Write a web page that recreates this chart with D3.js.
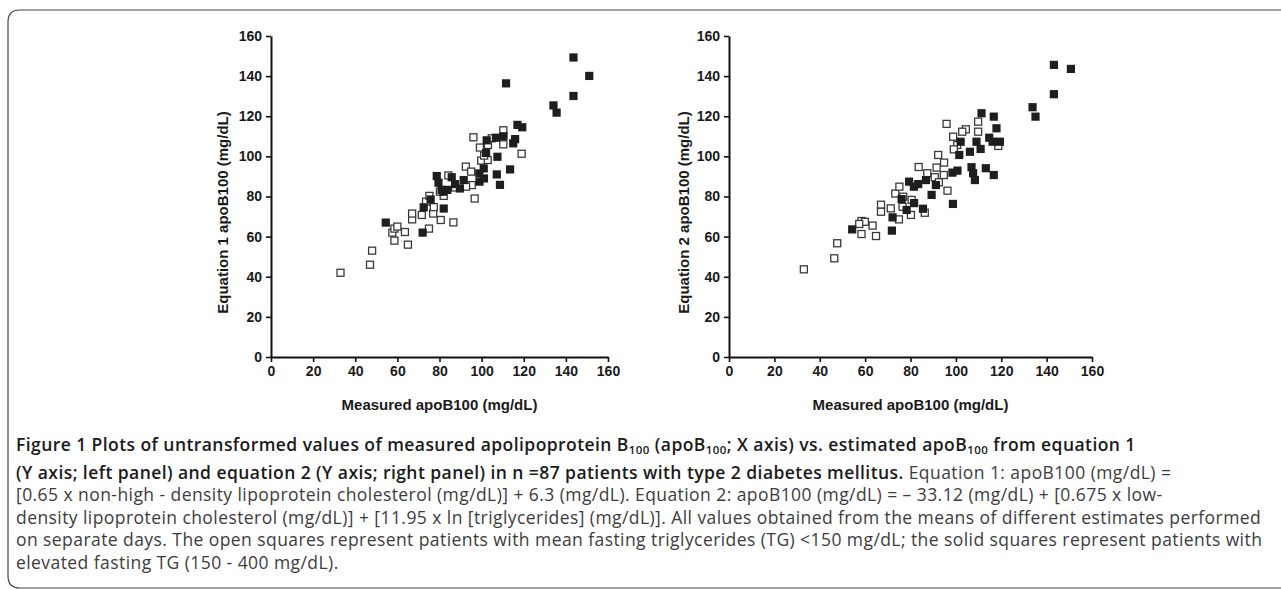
<!DOCTYPE html>
<html><head><meta charset="utf-8">
<script src="https://cdn.jsdelivr.net/npm/d3@7"></script>
<style>body{margin:0;background:#fff}svg{display:block}</style>
</head><body>
<svg id="c" width="1281" height="590"></svg>
<script>
// ---------- data ----------
const tickValues = [0, 20, 40, 60, 80, 100, 120, 140, 160];
const xTitle = "Measured apoB100  (mg/dL)";
const yTitleLeft = "Equation 1 apoB100  (mg/dL)";
const yTitleRight = "Equation 2 apoB100  (mg/dL)";

// Left panel: measured (x) vs equation 1 (y)
const leftOpen = [
  [33,42],[47,46],[48,53],[57.6,62],[58.6,64],[60,65],[58.6,58],[63.6,62.3],[65,56],[75,64],
  [67,68.6],[67,71.5],[71.6,70.8],[77,71.5],[80.6,68.3],[86.6,67.1],[77.3,74.7],[73.6,77.4],
  [75.2,80.3],[82,80.3],[80.2,82.4],[84.2,90.5],[87.4,84.5],[92.5,94.9],[95,92.4],[95.3,85.7],
  [92.6,84.9],[96.7,79],[96.1,109.5],[99.2,104.4],[99.8,97.9],[102.9,98.2],[101.2,100.4],
  [110.3,113],[110.3,106],[119,101.3],[104.8,109],[103,105.7]
];
const leftSolid = [
  [54.5,67],[72,62],[72.5,74.6],[75.8,78.5],[82,74],[78.7,90.2],[79.5,86.9],[81,83.3],
  [83.7,83.3],[85.8,89.6],[87.4,86.2],[89.7,84],[91.5,88.2],[98.9,91.5],[99,87.4],[101.1,89],
  [101,94],[102.1,101.7],[102.4,108],[107.5,99.8],[106.8,109.3],[110.4,110],[107.2,91],
  [108.7,85.8],[113.5,93.5],[115.9,108.6],[117,115.7],[119.3,114.5],[143.6,149.3],[151.1,140.1],
  [143.6,130.1],[134.1,125.4],[135.6,121.8],[111.6,136.4],[81.8,82.4],[115,106.5]
];
// Right panel: measured (x) vs equation 2 (y)
const rightOpen = [
  [33,43.7],[46.4,49.2],[47.7,56.7],[58.4,67.8],[59.9,67.4],[57.4,66.3],[58.4,61.3],[63.3,65.5],
  [64.8,60.3],[67,75.9],[67,72.4],[71.3,74.1],[74.9,68.6],[80.2,70.8],[76.5,74.9],[86.3,71.9],
  [73.3,81.5],[75.1,84.9],[76.8,79.9],[80.5,78.3],[83.6,94.7],[87.4,91.6],[94.7,90.7],[90.7,89.6],
  [92.5,87.1],[96.3,82.9],[92.2,100.7],[94.8,96.9],[91.5,94.4],[95.9,116.2],[109.8,117.3],
  [104.4,113.5],[102.8,112.3],[109.8,112.3],[98.8,109.8],[100.6,105.7],[99.1,103.5],[118.7,105.2]
];
const rightSolid = [
  [54.3,63.6],[71.8,63],[72.1,69.6],[78.3,73.3],[81.6,76.7],[76.1,78.7],[85.5,73.9],[98.7,76.3],
  [79.4,87.4],[83.4,86.2],[81.5,84.9],[86.8,88.2],[91.2,85.7],[89.3,80.8],[98.5,91.9],[100.7,92.9],
  [106.9,94.6],[107.6,91.6],[108.4,88.2],[113.2,94.1],[116.7,90.7],[101.5,100.7],[106.2,102.3],
  [110.9,103.7],[102.1,107.3],[109.1,107.3],[114.7,109.3],[116.2,107.3],[119.4,107.3],
  [111.3,121.5],[116.7,119.8],[117.9,114],[133.8,124.5],[135.1,119.8],[143.2,145.6],
  [150.7,143.6],[143.2,131]
];

const captionLines = [
  [["Figure 1 Plots of untransformed values of measured apolipoprotein B","b"],["100","bs"],[" (apoB","b"],["100","bs"],["; X axis) vs. estimated apoB","b"],["100","bs"],[" from equation 1","b"]],
  [["(Y axis; left panel) and equation 2 (Y axis; right panel) in n =87 patients with type 2 diabetes mellitus.","b"],[" Equation 1: apoB100 (mg/dL) =","r"]],
  [["[0.65 x non-high - density lipoprotein cholesterol (mg/dL)] + 6.3 (mg/dL). Equation 2: apoB100 (mg/dL) = \u2013 33.12 (mg/dL) + [0.675 x low-","r"]],
  [["density lipoprotein cholesterol (mg/dL)] + [11.95 x ln [triglycerides] (mg/dL)]. All values obtained from the means of different estimates performed","r"]],
  [["on separate days. The open squares represent patients with mean fasting triglycerides (TG) <150 mg/dL; the solid squares represent patients with","r"]],
  [["elevated fasting TG (150 - 400 mg/dL).","r"]]
];
const captionBaselines = [451, 479, 501, 524, 546, 569];

// ---------- drawing ----------
const svg = d3.select("#c");

// figure frame (rounded, open to the right)
svg.append("path")
  .attr("d", "M1290,10 L20,10 Q8,10 8,22 L8,576 Q8,588 20,588 L1290,588")
  .attr("fill", "none").attr("stroke", "#444").attr("stroke-width", 1.2);

const panels = [
  {x0: 271, x1: 608, open: leftOpen, solid: leftSolid, yTitle: yTitleLeft, yTitleX: 228},
  {x0: 729, x1: 1092, open: rightOpen, solid: rightSolid, yTitle: yTitleRight, yTitleX: 689}
];
const yTop = 36, yBot = 357;
const sq = 7;

panels.forEach(p => {
  const x = d3.scaleLinear().domain([0, 160]).range([p.x0, p.x1]);
  const y = d3.scaleLinear().domain([0, 160]).range([yBot, yTop]);
  const g = svg.append("g");

  const ax = g.append("g").attr("transform", `translate(0,${yBot})`)
    .call(d3.axisBottom(x).tickValues(tickValues).tickSize(5).tickPadding(4).tickSizeOuter(0));
  const ay = g.append("g").attr("transform", `translate(${p.x0},0)`)
    .call(d3.axisLeft(y).tickValues(tickValues).tickSize(5).tickPadding(4).tickSizeOuter(0));
  [ax, ay].forEach(a => {
    a.select(".domain").attr("stroke", "#111").attr("stroke-width", 2);
    a.selectAll(".tick line").attr("stroke", "#111").attr("stroke-width", 1.6);
    a.selectAll(".tick text").attr("fill", "#1a1a1a")
      .style("font-family", "'Liberation Sans', Arial, sans-serif")
      .style("font-weight", "bold").style("font-size", "14px");
  });

  g.append("g").selectAll("rect").data(p.open).join("rect")
    .attr("x", d => x(d[0]) - sq / 2).attr("y", d => y(d[1]) - sq / 2)
    .attr("width", sq).attr("height", sq)
    .attr("fill", "#fff").attr("stroke", "#3a3a3a").attr("stroke-width", 1.3);
  g.append("g").selectAll("rect").data(p.solid).join("rect")
    .attr("x", d => x(d[0]) - sq / 2 - 0.6).attr("y", d => y(d[1]) - sq / 2 - 0.6)
    .attr("width", sq + 1.2).attr("height", sq + 1.2)
    .attr("fill", "#1e1e1e");

  g.append("text").attr("x", (p.x0 + p.x1) / 2).attr("y", 410)
    .attr("text-anchor", "middle").attr("fill", "#1a1a1a")
    .style("font-family", "'Liberation Sans', Arial, sans-serif")
    .style("font-weight", "bold").style("font-size", "15px").text(xTitle);
  g.append("text").attr("transform", `translate(${p.yTitleX},${(yTop + yBot) / 2 + 16}) rotate(-90)`)
    .attr("text-anchor", "middle").attr("fill", "#1a1a1a")
    .style("font-family", "'Liberation Sans', Arial, sans-serif")
    .style("font-weight", "bold").style("font-size", "15px").text(p.yTitle);
});

// caption
captionLines.forEach((segs, i) => {
  const t = svg.append("text").attr("x", 16).attr("y", captionBaselines[i])
    .style("font-family", "'Open Sans', sans-serif").style("font-size", "17.5px")
    .style("letter-spacing", "0.43px");
  let sub = false;
  segs.forEach(([txt, kind]) => {
    const s = t.append("tspan").text(txt);
    if (kind[0] === "b") s.style("font-weight", "600").attr("fill", "#1a1a1a");
    else s.style("font-weight", "normal").attr("fill", "#3c3c3c");
    if (kind === "bs") { s.style("font-size", "11.5px").attr("dy", 3); sub = true; }
    else if (sub) { s.attr("dy", -3); sub = false; }
  });
});
</script>
</body></html>
